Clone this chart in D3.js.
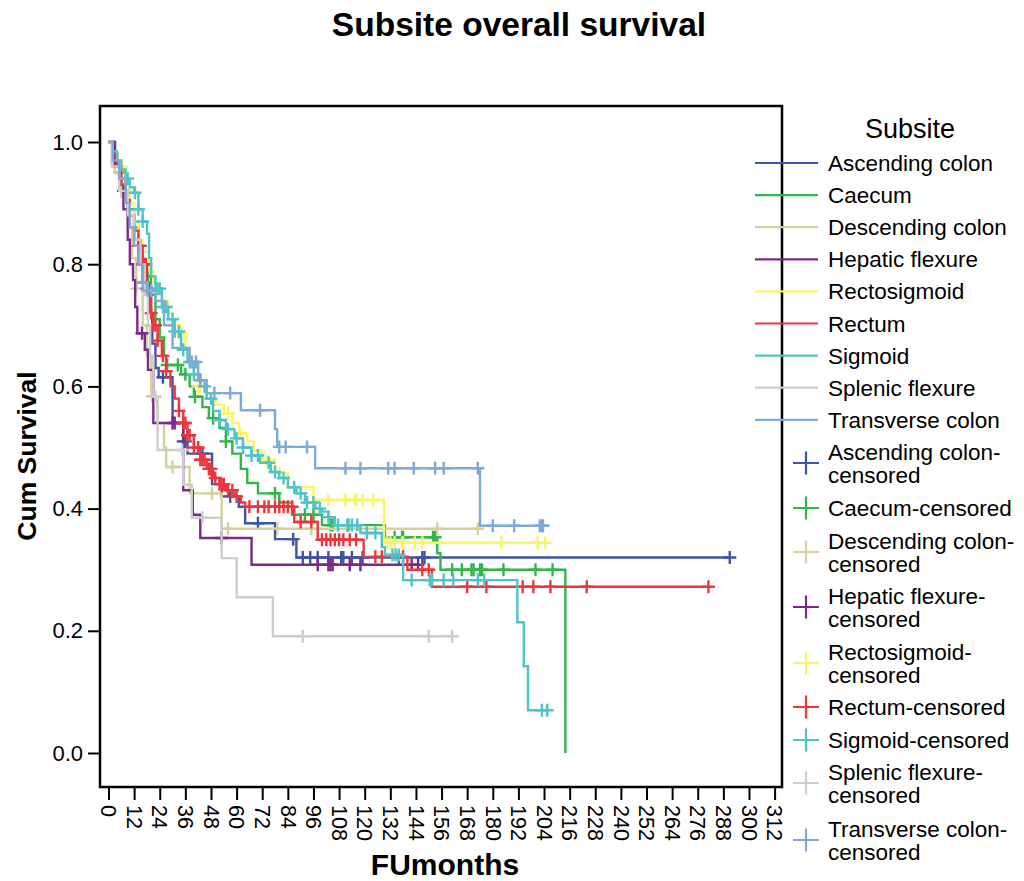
<!DOCTYPE html>
<html>
<head>
<meta charset="utf-8">
<script src="https://cdn.jsdelivr.net/npm/d3@7"></script>
<style>
  body { margin: 0; background: #fff; }
  svg { display: block; }
  text { font-family: Arial, "Liberation Sans", sans-serif; fill: #000; }
</style>
</head>
<body>
<svg id="chart" width="1024" height="881"></svg>
<script>
// Kaplan-Meier overall survival by tumour subsite.
// Each step list holds [month, cumulative survival] at every drop;
// censored lists hold the follow-up months of censored cases.

const subsites = [
  "Ascending colon", "Caecum", "Descending colon", "Hepatic flexure",
  "Rectosigmoid", "Rectum", "Sigmoid", "Splenic flexure", "Transverse colon"
];

const subsiteColors = [
  "#3c55a5", "#30b64b", "#d5d19b", "#7b2b87",
  "#fbf463", "#ec363c", "#4ec4c8", "#cdcdcd", "#7eaad8"
];

const ascendingSteps = [[0,1],[3,.96],[6,.92],[9,.88],[12,.84],[14,.80],[16,.77],[19,.72],[20.5,.67],[22,.63],[23.5,.615],[30,.54],[35,.51],[37,.49],[48.5,.44],[53,.42],[61,.403],[64,.376],[78,.35],[88,.32]];
const ascendingCensored = [7,17,25.5,35,36,44,57,70,86.5,91,94.5,98,103,109,110,114,119,136,147,148,291];

const caecumSteps = [[0,1],[2,.98],[4,.965],[5,.95],[8,.92],[10,.89],[12,.86],[14,.83],[16,.80],[18,.78],[20,.75],[22,.71],[24,.68],[26,.65],[27,.635],[34,.62],[38,.60],[40,.583],[44,.566],[47,.548],[52,.532],[55,.51],[58,.49],[62,.465],[65,.442],[70,.425],[80,.41],[86,.39],[100,.373],[129.5,.353],[154,.327],[155.5,.30],[214,0]];
const caecumCensored = [5.4,18.5,27.5,32.5,36,40.5,49,55,78,92,96,104,105,112,134,137.5,138,152,153,161,165.5,170,171,174,175,185,200,208];

const descendingSteps = [[0,1],[3,.95],[6,.91],[9,.86],[11,.81],[13,.76],[16,.70],[18,.65],[20,.584],[23,.54],[26,.50],[27,.468],[38,.425],[53,.367]];
const descendingCensored = [13,20.5,30,48.5,56,79,95,154,173];

const hepaticSteps = [[0,1],[3,.96],[5,.93],[7,.89],[9,.84],[10,.80],[11.5,.774],[12.5,.73],[13.5,.687],[17,.66],[18.5,.627],[21,.54],[35,.43],[39.5,.39],[43,.352],[67,.308]];
const hepaticCensored = [15.7,30,31,53,98,103,104,105,113,118,142,145];

const rectosigmoidSteps = [[0,1],[2,.985],[4,.97],[5,.96],[8,.93],[10,.90],[12,.87],[14,.84],[16,.82],[19,.79],[21,.77],[22,.76],[25,.74],[28,.72],[30,.70],[33,.687],[36,.66],[38,.64],[40,.62],[42,.60],[46,.58],[50,.57],[54,.556],[58,.54],[61,.523],[65,.51],[68,.495],[72,.48],[78,.458],[84,.435],[96,.414],[129,.344]];
const rectosigmoidCensored = [6.3,22.5,31,33,34,42,43,56,61.5,74,80,103,111,115.5,116,119,124,130.5,132,134,137.5,138,143.5,147,184,201,204.5];

const rectumSteps = [[0,1],[2,.98],[4,.96],[6,.93],[8,.905],[10,.88],[12,.855],[14,.83],[16,.80],[18,.76],[20,.72],[21,.70],[23,.675],[25,.65],[27,.625],[29,.60],[31,.58],[33,.56],[35,.54],[37,.52],[40,.50],[43,.48],[46,.465],[49,.45],[52,.44],[55,.43],[59,.42],[62,.41],[64,.403],[87,.378],[98,.349],[119.5,.321],[140,.30],[151.5,.272]];
const rectumCensored = [14,15,16,17,17.5,18,20,21,22,23,25.5,27,33,35,36,37,38,40,42,43,44,45,47,48,50,52,53,54,56,58,60,66,70,73,75,78,80,82,84,86,90,95,100,102,104,106,108,110,113,116,125,128,138,147,150,168,177,194,199,207,224,281];

const sigmoidSteps = [[0,1],[2,.985],[4,.97],[6,.955],[8,.94],[10,.926],[12,.917],[14,.89],[16,.87],[18,.85],[19,.81],[20,.78],[22,.76],[25,.73],[28,.71],[31,.69],[34,.66],[37,.64],[40,.62],[43,.60],[46,.58],[49,.56],[52,.545],[55,.53],[59,.515],[63,.50],[67,.487],[71,.475],[76,.46],[80,.45],[84,.435],[88,.425],[92,.41],[97,.40],[100,.395],[103,.386],[106,.373],[118,.36],[128,.337],[129.5,.324],[138,.283],[191.5,.214],[194.5,.142],[196.5,.07]];
const sigmoidCensored = [9,12.4,14,16,23,24,25.5,27,30,31,33,35,38,40,45,48,52,56,60,63,67,70,75,78,82,87,90,93,96,99,103,107.5,112,112.5,114,116.5,121,125,133,134.5,136,142,150.5,151.5,157,161.5,173,176,203,205.5];

const splenicSteps = [[0,1],[1.5,.96],[5,.92],[9,.88],[12,.84],[15,.80],[17,.75],[18.5,.70],[19.5,.65],[21,.583],[23,.496],[35,.439],[39,.385],[53,.319],[60,.255],[77,.191]];
const splenicCensored = [22,34.5,44,91,150,161];

const transverseSteps = [[0,1],[2,.97],[5,.94],[8,.90],[10,.86],[12,.83],[14,.80],[16,.77],[18,.757],[22,.74],[26,.70],[30,.663],[38,.64],[42,.61],[46,.589],[62,.561],[78,.530],[79,.501],[96.8,.466],[174,.372]];
const transverseCensored = [16,18.5,20,39,41,43,49.6,57,71,80,83,93,111,118,131,134,143,153,157,173,180,190,202,203,203.5];

const stepLists = [ascendingSteps, caecumSteps, descendingSteps, hepaticSteps,
  rectosigmoidSteps, rectumSteps, sigmoidSteps, splenicSteps, transverseSteps];
const censoredLists = [ascendingCensored, caecumCensored, descendingCensored, hepaticCensored,
  rectosigmoidCensored, rectumCensored, sigmoidCensored, splenicCensored, transverseCensored];

const xTickValues = [0,12,24,36,48,60,72,84,96,108,120,132,144,156,168,180,192,204,216,228,240,252,264,276,288,300,312];
const yTickValues = [0.0, 0.2, 0.4, 0.6, 0.8, 1.0];

const svg = d3.select("#chart");

const x = d3.scaleLinear().domain([0, 312]).range([108.5, 774.6]);
const y = d3.scaleLinear().domain([0, 1]).range([753, 142]);

const frame = { left: 100, top: 106, right: 782, bottom: 787 };

// Title
svg.append("text")
  .attr("x", 519).attr("y", 36)
  .attr("text-anchor", "middle")
  .style("font-size", "33.5px").style("font-weight", "bold")
  .text("Subsite overall survival");

// Survival value of a step function at a given month
function survivalAt(steps, t) {
  let s = steps[0][1];
  for (const [m, v] of steps) { if (m <= t) s = v; else break; }
  return s;
}

const curves = svg.append("g");
const stepLine = d3.line()
  .x(d => x(d[0])).y(d => y(d[1]))
  .curve(d3.curveStepAfter);

const plusPath = r => `M${-r},0H${r}M0,${-r}V${r}`;

stepLists.forEach((steps, i) => {
  const cens = censoredLists[i];
  const last = steps[steps.length - 1];
  const endT = Math.max(last[0], cens.length ? cens[cens.length - 1] : 0);
  const pts = steps.slice();
  if (endT > last[0]) pts.push([endT, last[1]]);
  const g = curves.append("g");
  g.append("path")
    .attr("d", stepLine(pts))
    .attr("fill", "none")
    .attr("stroke", subsiteColors[i])
    .attr("stroke-width", 2.4);
  g.selectAll("path.cens")
    .data(cens)
    .join("path")
    .attr("class", "cens")
    .attr("transform", t => `translate(${x(t)},${y(survivalAt(steps, t))})`)
    .attr("d", plusPath(6.5))
    .attr("stroke", subsiteColors[i])
    .attr("stroke-width", 2.4);
});

// Frame
svg.append("rect")
  .attr("x", frame.left).attr("y", frame.top)
  .attr("width", frame.right - frame.left).attr("height", frame.bottom - frame.top)
  .attr("fill", "none").attr("stroke", "#000").attr("stroke-width", 2.5);

// Y axis
const yAxis = svg.append("g")
  .attr("transform", `translate(${frame.left},0)`)
  .call(d3.axisLeft(y).tickValues(yTickValues).tickFormat(d3.format(".1f")).tickSize(12).tickPadding(5));
yAxis.select(".domain").remove();
yAxis.selectAll(".tick line").attr("stroke", "#000").attr("stroke-width", 2);
yAxis.selectAll(".tick text").style("font-size", "22px").attr("fill", "#000");

// X axis
const xAxis = svg.append("g")
  .attr("transform", `translate(0,${frame.bottom})`)
  .call(d3.axisBottom(x).tickValues(xTickValues).tickSize(13));
xAxis.select(".domain").remove();
xAxis.selectAll(".tick line").attr("stroke", "#000").attr("stroke-width", 2);
xAxis.selectAll(".tick text")
  .attr("transform", "rotate(90)")
  .attr("x", 18).attr("y", 0).attr("dy", "0.36em")
  .style("text-anchor", "start")
  .style("font-size", "21.5px").attr("fill", "#000");

// Axis titles
svg.append("text")
  .attr("transform", "translate(36,456) rotate(-90)")
  .attr("text-anchor", "middle")
  .style("font-size", "26.5px").style("font-weight", "bold")
  .text("Cum Survival");

svg.append("text")
  .attr("x", 445).attr("y", 875)
  .attr("text-anchor", "middle")
  .style("font-size", "30px").style("font-weight", "bold")
  .text("FUmonths");

// Legend
const legend = svg.append("g");
legend.append("text")
  .attr("x", 910).attr("y", 138)
  .attr("text-anchor", "middle")
  .style("font-size", "27px")
  .text("Subsite");

subsites.forEach((name, i) => {
  const ly = 163 + i * 32.1;
  legend.append("line")
    .attr("x1", 755).attr("x2", 818).attr("y1", ly).attr("y2", ly)
    .attr("stroke", subsiteColors[i]).attr("stroke-width", 2.2);
  legend.append("text")
    .attr("x", 828).attr("y", ly + 8)
    .style("font-size", "22.5px")
    .text(name);
});

const censoredLabelLines = [
  ["Ascending colon-", "censored"],
  ["Caecum-censored"],
  ["Descending colon-", "censored"],
  ["Hepatic flexure-", "censored"],
  ["Rectosigmoid-", "censored"],
  ["Rectum-censored"],
  ["Sigmoid-censored"],
  ["Splenic flexure-", "censored"],
  ["Transverse colon-", "censored"]
];
const censoredRowY = [463, 508, 552, 607, 663, 707, 740, 783, 840];

censoredLabelLines.forEach((lines, i) => {
  const cy = censoredRowY[i];
  legend.append("path")
    .attr("transform", `translate(806,${cy})`)
    .attr("d", "M-13,0H13M0,-11.5V11.5")
    .attr("stroke", subsiteColors[i]).attr("stroke-width", 2.2);
  const t = legend.append("text").style("font-size", "22.5px");
  if (lines.length === 1) {
    t.append("tspan").attr("x", 828).attr("y", cy + 8).text(lines[0]);
  } else {
    t.append("tspan").attr("x", 828).attr("y", cy - 3).text(lines[0]);
    t.append("tspan").attr("x", 828).attr("y", cy + 20).text(lines[1]);
  }
});
</script>
</body>
</html>
